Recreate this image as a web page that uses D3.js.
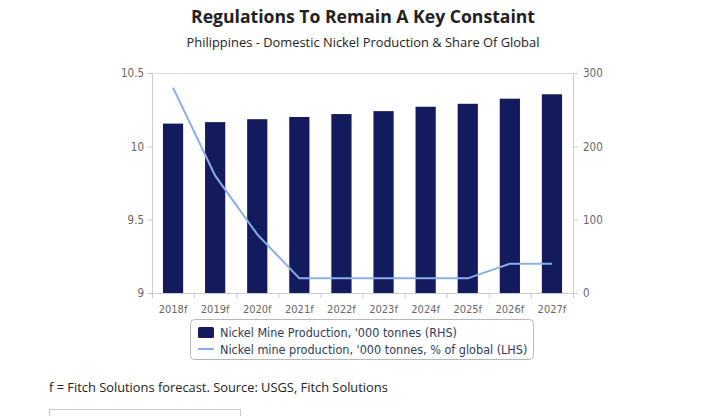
<!DOCTYPE html>
<html>
<head>
<meta charset="utf-8">
<script src="https://cdn.jsdelivr.net/npm/d3@7"></script>
<style>
  html, body { margin: 0; padding: 0; background: #fff; }
  svg { display: block; }
</style>
</head>
<body>
<svg id="chart" width="711" height="416"></svg>
<script>
const categories = ["2018f","2019f","2020f","2021f","2022f","2023f","2024f","2025f","2026f","2027f"];
const productionRHS = [231, 233, 237, 240, 244, 248, 254, 258, 265, 271];
const shareLHS = [10.4, 9.8, 9.4, 9.1, 9.1, 9.1, 9.1, 9.1, 9.2, 9.2];
const leftTicks = [9, 9.5, 10, 10.5];
const rightTicks = [0, 100, 200, 300];
const titleText = "Regulations To Remain A Key Constaint";
const subtitleText = "Philippines - Domestic Nickel Production & Share Of Global";
const legendLabels = ["Nickel Mine Production, '000 tonnes (RHS)", "Nickel mine production, '000 tonnes, % of global (LHS)"];
const footerText = "f = Fitch Solutions forecast. Source: USGS, Fitch Solutions";

const svg = d3.select("#chart");
const m = {left: 152, right: 573, top: 73, bottom: 293};
const barColor = "#141a5e", lineColor = "#8aaeea", axisColor = "#c8ccd4", tickText = "#666";
const tickFont = "'DejaVu Sans Condensed', 'DejaVu Sans', sans-serif";

const x = d3.scaleBand().domain(categories).range([m.left, m.right]).paddingInner(0.52).paddingOuter(0.26);
const xb = d3.scaleBand().domain(categories).range([m.left, m.right]);
const yL = d3.scaleLinear().domain([9, 10.5]).range([m.bottom, m.top]);
const yR = d3.scaleLinear().domain([0, 300]).range([m.bottom, m.top]);

// title
svg.append("text").attr("x", 363).attr("y", 23).attr("text-anchor", "middle")
  .attr("font-family", "'Open Sans', sans-serif").attr("font-weight", "bold").attr("font-size", 17.6)
  .attr("fill", "#222").text(titleText);
svg.append("text").attr("x", 363).attr("y", 47).attr("text-anchor", "middle")
  .attr("font-family", "'Open Sans', sans-serif").attr("font-size", 12.9)
  .attr("fill", "#222").text(subtitleText);

// top frame line
svg.append("line").attr("x1", m.left).attr("x2", m.right).attr("y1", m.top + 0.5).attr("y2", m.top + 0.5)
  .attr("stroke", "#dde0e6");

// bars
svg.append("g").selectAll("rect").data(categories).join("rect")
  .attr("x", d => x(d)).attr("width", x.bandwidth())
  .attr("y", (d, i) => yR(productionRHS[i])).attr("height", (d, i) => yR(0) - yR(productionRHS[i]))
  .attr("fill", barColor);

// line
const line = d3.line().x((d, i) => xb(categories[i]) + xb.bandwidth() / 2).y(d => yL(d));
svg.append("path").datum(shareLHS).attr("d", line).attr("fill", "none")
  .attr("stroke", lineColor).attr("stroke-width", 2);

// axes
const gL = svg.append("g").attr("transform", `translate(${m.left},0)`)
  .call(d3.axisLeft(yL).tickValues(leftTicks).tickSize(5).tickPadding(3).tickFormat(d3.format("")));
const gR = svg.append("g").attr("transform", `translate(${m.right},0)`)
  .call(d3.axisRight(yR).tickValues(rightTicks).tickSize(5).tickPadding(5).tickFormat(d3.format("")));
const gB = svg.append("g").attr("transform", `translate(0,${m.bottom})`)
  .call(d3.axisBottom(xb).tickSize(0).tickPadding(12));
// category boundary ticks
const bounds = categories.map(c => xb(c)).concat([m.right]);
gB.selectAll(".bt").data(bounds).join("line").attr("class", "bt")
  .attr("x1", d => d + 0.5).attr("x2", d => d + 0.5).attr("y1", 0).attr("y2", 5)
  .attr("stroke", axisColor);

[gL, gR, gB].forEach(g => {
  g.select(".domain").attr("stroke", axisColor);
  g.selectAll(".tick line").attr("stroke", axisColor);
  g.selectAll("text").attr("font-family", tickFont).attr("font-size", 11.5).attr("fill", tickText);
});
gB.selectAll("text").attr("font-size", 11);

// legend
const lg = svg.append("g");
lg.append("rect").attr("x", 190.5).attr("y", 319.5).attr("width", 343).attr("height", 40).attr("rx", 4)
  .attr("fill", "#fff").attr("stroke", "#b8b8b8");
lg.append("rect").attr("x", 198).attr("y", 327).attr("width", 16).attr("height", 11).attr("rx", 1.5).attr("fill", barColor);
lg.append("line").attr("x1", 198).attr("x2", 214).attr("y1", 349).attr("y2", 349).attr("stroke", lineColor).attr("stroke-width", 2);
lg.selectAll("text").data(legendLabels).join("text")
  .attr("x", 220).attr("y", (d, i) => 337 + i * 16.5)
  .attr("font-family", tickFont).attr("font-size", 12.5).attr("fill", "#2e3b5c").text(d => d);

// footer
svg.append("text").attr("x", 49).attr("y", 392).attr("font-family", "'Open Sans', sans-serif")
  .attr("font-size", 12.85).attr("fill", "#222").text(footerText);
svg.append("rect").attr("x", 49.5).attr("y", 409.5).attr("width", 191).attr("height", 20)
  .attr("fill", "none").attr("stroke", "#c8c8c8");
</script>
</body>
</html>
